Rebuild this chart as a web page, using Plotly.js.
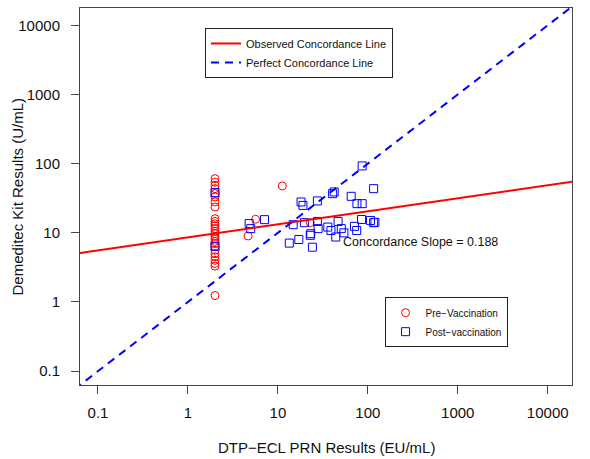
<!DOCTYPE html>
<html><head><meta charset="utf-8">
<script src="https://cdn.plot.ly/plotly-3.0.1.min.js"></script>
<style>html,body{margin:0;padding:0;background:#fff}#chart{width:590px;height:459px}</style>
</head><body><div id="chart"></div>
<script>
// Pre-vaccination (red open circles)
const preX = [2,2,2,2,2,2,2,2,2,2,2,2,2,2,2,2,2,2,2,2,2,2,2,2,2,2,2, 11.2,5.65,4.67,22.9];
const preY = [60.7,54,48.5,43.5,37,33,28,23.6,16,14.6,13.5,12.6,11.5,10.5,9.7,8.9,8.2,7.5,7.0,6.3,5.6,5.0,4.5,4.0,3.6,3.3,1.24, 47.6,15.7,9.0,14.0];
// Post-vaccination (blue open squares)
const postX = [2,2,4.79,4.99,7.1,14.8,13.4,17.1,18.1,19.0,27.5,19.7,23.2,22.9,24.2,27.5,28.0,35.9,38.9,40.6,42.3,46.7,50.7,54.2,44,65.3,71,75.2,75.7,86.5,85.1,86.5,107,116,116,120];
const postY = [38,6.4,13.6,11.5,15.5,13.1,7.1,8.0,27.9,24.9,28.9,14.0,9.7,9.2,6.2,14.6,11.5,12.1,10.8,36.8,39,14.6,11.5,10.0,8.7,33.7,12.4,10.8,26.4,26.4,15.6,92.7,15.1,14.0,43.5,14.2];
// Axis ticks
const tickVals = [0.1,1,10,100,1000,10000];
const tickText = ['0.1','1','10','100','1000','10000'];
// Observed concordance line (log10 scale): log10(y) = intercept + slope*log10(x)
const fitIntercept = 0.935;
const fitSlope = 0.188;
const lineX = [0.01, 100000];
// Annotation
const slopeLabel = 'Concordance Slope = 0.188';
const slopeLabelPos = [50, 7.4];

const fitY = lineX.map(x => Math.pow(10, fitIntercept + fitSlope*Math.log10(x)));
const FONT = 'Liberation Sans, Arial, Helvetica, sans-serif';

const traces = [
  {x: preX, y: preY, type:'scatter', mode:'markers', name:'Pre−Vaccination', legend:'legend2',
   marker:{symbol:'circle-open', size:8, color:'#FF0000', line:{width:1, color:'#FF0000'}}},
  {x: postX, y: postY, type:'scatter', mode:'markers', name:'Post−vaccination', legend:'legend2',
   marker:{symbol:'square-open', size:8, color:'#0000FF', line:{width:1, color:'#0000FF'}}},
  {x: lineX, y: fitY, type:'scatter', mode:'lines', name:'Observed Concordance Line', legend:'legend',
   line:{color:'#FF0000', width:2}},
  {x: lineX, y: lineX, type:'scatter', mode:'lines', name:'Perfect Concordance Line', legend:'legend',
   line:{color:'#0000FF', width:2, dash:'8px,6px'}}
];

const axisCommon = {type:'log', tickmode:'array', tickvals:tickVals, ticktext:tickText,
  ticks:'outside', ticklen:8, tickwidth:1, tickcolor:'#444', showline:true, mirror:true,
  linecolor:'#444', linewidth:1, showgrid:false, zeroline:false, automargin:false,
  tickfont:{family:FONT, size:15, color:'#111'}};

const legendCommon = {bgcolor:'#ffffff', bordercolor:'#222', borderwidth:1,
  font:{family:FONT, size:11, color:'#111'}, itemwidth:30, tracegroupgap:0};

const layout = {
  width:590, height:459,
  margin:{l:80, r:18, t:8, b:74},
  paper_bgcolor:'#fff', plot_bgcolor:'#fff',
  showlegend:true,
  xaxis:Object.assign({}, axisCommon, {range:[-1.2,4.27], ticklabelstandoff:6}),
  yaxis:Object.assign({}, axisCommon, {range:[-1.2,4.25], ticklabelstandoff:8}),
  legend:Object.assign({}, legendCommon, {x:0.254, y:0.947, xanchor:'left', yanchor:'top'}),
  legend2:Object.assign({}, legendCommon, {x:0.744, y:0.233, xanchor:'center', yanchor:'top',
    font:{family:FONT, size:10, color:'#111'}}),
  annotations:[
    {text:slopeLabel, x:Math.log10(slopeLabelPos[0]), y:Math.log10(slopeLabelPos[1]), xref:'x', yref:'y',
     xanchor:'left', yanchor:'middle', showarrow:false, font:{family:FONT, size:12.5, color:'#111'}},
    {text:'DTP−ECL PRN Results (EU/mL)', x:0.5, y:0, xref:'paper', yref:'paper', yshift:-62,
     xanchor:'center', yanchor:'middle', showarrow:false, font:{family:FONT, size:15, color:'#111'}},
    {text:'Demeditec Kit Results (U/mL)', x:0, y:0.5, xref:'paper', yref:'paper', xshift:-63, textangle:-90,
     xanchor:'center', yanchor:'middle', showarrow:false, font:{family:FONT, size:15, color:'#111'}}
  ]
};

Plotly.newPlot('chart', traces, layout, {staticPlot:true, displayModeBar:false});
</script>
</body></html>
